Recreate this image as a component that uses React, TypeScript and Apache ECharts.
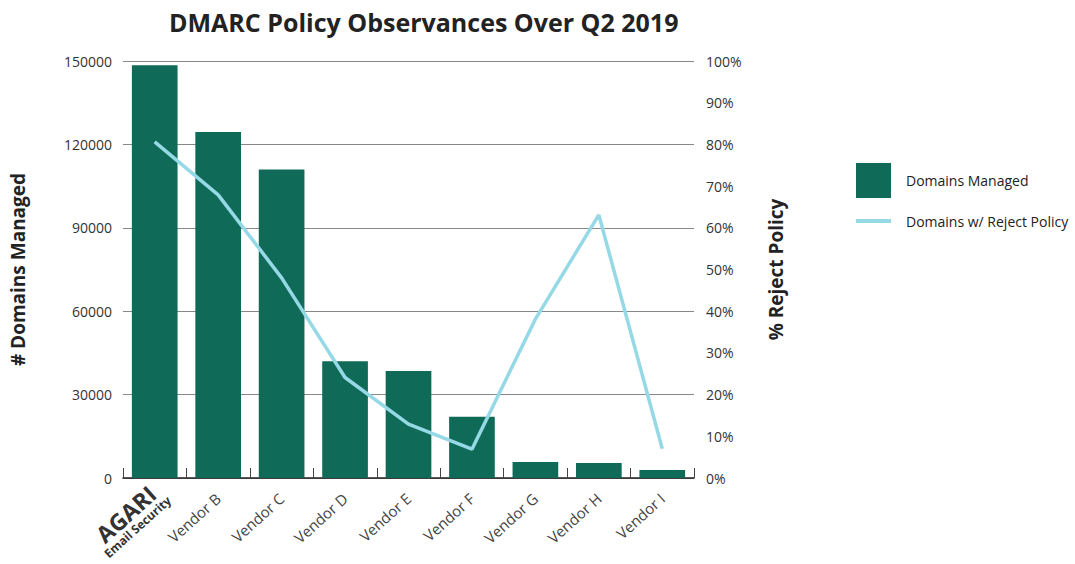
import React, { useEffect, useRef } from "react";
import * as echarts from "echarts";

const categories = ["AGARI", "Vendor B", "Vendor C", "Vendor D", "Vendor E", "Vendor F", "Vendor G", "Vendor H", "Vendor I"];
const domainsManaged = [148500, 124500, 111000, 42000, 38500, 22000, 5800, 5400, 2900];
const rejectPolicyPct = [80.6, 67.9, 48.0, 24.1, 12.9, 6.9, 38.1, 63.1, 7.0];
const leftTicks = { min: 0, max: 150000, interval: 30000 };
const rightTicks = { min: 0, max: 100, interval: 10 };

const FONT = "'Open Sans', 'Noto Sans', sans-serif";
const BAR_COLOR = "#0f6b58";
const LINE_COLOR = "#96d9e6";

export default function App() {
  const ref = useRef<HTMLDivElement>(null);
  useEffect(() => {
    document.body.style.margin = "0";
    const chart = echarts.init(ref.current!, null, { renderer: "svg" });
    const catData = categories.map((c) =>
      c === "AGARI" ? { value: c, textStyle: { padding: [0, -9, 0, 0] } } : c
    );
    chart.setOption({
      animation: false,
      textStyle: { fontFamily: FONT },
      title: {
        text: "DMARC Policy Observances Over Q2 2019",
        left: 164,
        top: 4,
        textStyle: { fontFamily: FONT, fontSize: 25, fontWeight: "bold", color: "#222" },
      },
      legend: [
        {
          orient: "vertical",
          left: 851,
          top: 158,
          itemWidth: 35,
          itemHeight: 35,
          icon: "rect",
          textStyle: { fontFamily: FONT, fontSize: 14, color: "#222", padding: [0, 0, 0, 10] },
          data: ["Domains Managed"],
        },
        {
          orient: "vertical",
          left: 851,
          top: 209,
          itemWidth: 35,
          itemHeight: 4,
          icon: "rect",
          itemStyle: { color: LINE_COLOR, borderWidth: 0 },
          textStyle: { fontFamily: FONT, fontSize: 14, color: "#222", padding: [0, 0, 0, 10] },
          data: ["Domains w/ Reject Policy"],
        },
      ],
      grid: { left: 123, right: 381, top: 61, bottom: 86 },
      xAxis: {
        type: "category",
        data: catData,
        axisLine: { show: true, lineStyle: { color: "#222", width: 1.5 } },
        axisTick: { show: true, inside: true, length: 10, lineStyle: { color: "#444" } },
        axisLabel: {
          interval: 0,
          rotate: 42,
          margin: 18,
          fontFamily: FONT,
          fontSize: 15,
          color: "#444",
          formatter: (v: string) => (v === "AGARI" ? "{a|AGARI}\n{b|Email Security}" : v),
          rich: {
            a: { fontFamily: FONT, fontSize: 23, fontWeight: "bold", color: "#333", align: "right", padding: [0, 7, 0, 0] },
            b: { fontFamily: FONT, fontSize: 12, fontWeight: "bold", color: "#333", align: "right" },
          },
        },
      },
      yAxis: [
        {
          type: "value",
          ...leftTicks,
          name: "# Domains Managed",
          nameLocation: "middle",
          nameRotate: 90,
          nameGap: 96,
          nameTextStyle: { fontFamily: FONT, fontSize: 19, fontWeight: "bold", color: "#222" },
          axisLine: { show: false },
          axisTick: { show: false },
          axisLabel: { fontFamily: FONT, fontSize: 14, color: "#333", margin: 11, formatter: (v: number) => String(v) },
          splitLine: { show: true, lineStyle: { color: "#888", width: 1 } },
        },
        {
          type: "value",
          ...rightTicks,
          name: "% Reject Policy",
          nameLocation: "middle",
          nameRotate: 90,
          nameGap: 72,
          nameTextStyle: { fontFamily: FONT, fontSize: 19, fontWeight: "bold", color: "#222" },
          axisLine: { show: false },
          axisTick: { show: false },
          axisLabel: { fontFamily: FONT, fontSize: 14, color: "#333", margin: 12, formatter: "{value}%" },
          splitLine: { show: false },
        },
      ],
      series: [
        {
          name: "Domains Managed",
          type: "bar",
          data: domainsManaged,
          barWidth: "72%",
          itemStyle: { color: BAR_COLOR },
        },
        {
          name: "Domains w/ Reject Policy",
          type: "line",
          yAxisIndex: 1,
          data: rejectPolicyPct,
          symbol: "none",
          lineStyle: { color: LINE_COLOR, width: 3.5 },
          itemStyle: { color: LINE_COLOR },
        },
      ],
    });
    return () => chart.dispose();
  }, []);
  return <div ref={ref} style={{ width: 1075, height: 564 }} />;
}
